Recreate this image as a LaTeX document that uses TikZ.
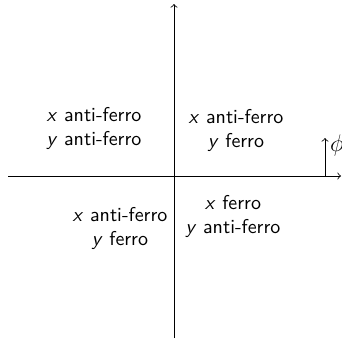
\documentclass[tikz,border=0pt]{standalone}
\usetikzlibrary{positioning}

\begin{document}
\begin{tikzpicture}[
  x=0.5pt, y=-0.5pt,
  every node/.style={font=\sffamily},
  quad/.style={align=center, inner sep=0pt},
  axis/.style={->, thin}
]
\useasboundingbox (0,0) rectangle (342,339);
%% axes
\coordinate (xl) at (8,176);
\coordinate (xr) at (341,176);
\coordinate (yb) at (174,338);
\coordinate (yt) at (174,4);
\draw[axis] (xl) -- (xr);
\draw[axis] (yb) -- (yt);

%% angle marker
\coordinate (p0) at (325,176);
\coordinate (p1) at (325,138);
\draw[axis] (p0) -- (p1);
\node[inner sep=0pt, font=\large] (phi) at (337,145) {$\phi$};

%% quadrant labels
\node[quad] (q1) at (236,130) {\textsl{x} anti-ferro\\\textsl{y} ferro};
\node[quad] (q2) at (94,128)  {\textsl{x} anti-ferro\\\textsl{y} anti-ferro};
\node[quad] (q3) at (120,228) {\textsl{x} anti-ferro\\\textsl{y} ferro};
\node[quad] (q4) at (233,216) {\textsl{x} ferro\\\textsl{y} anti-ferro};
\end{tikzpicture}
\end{document}
